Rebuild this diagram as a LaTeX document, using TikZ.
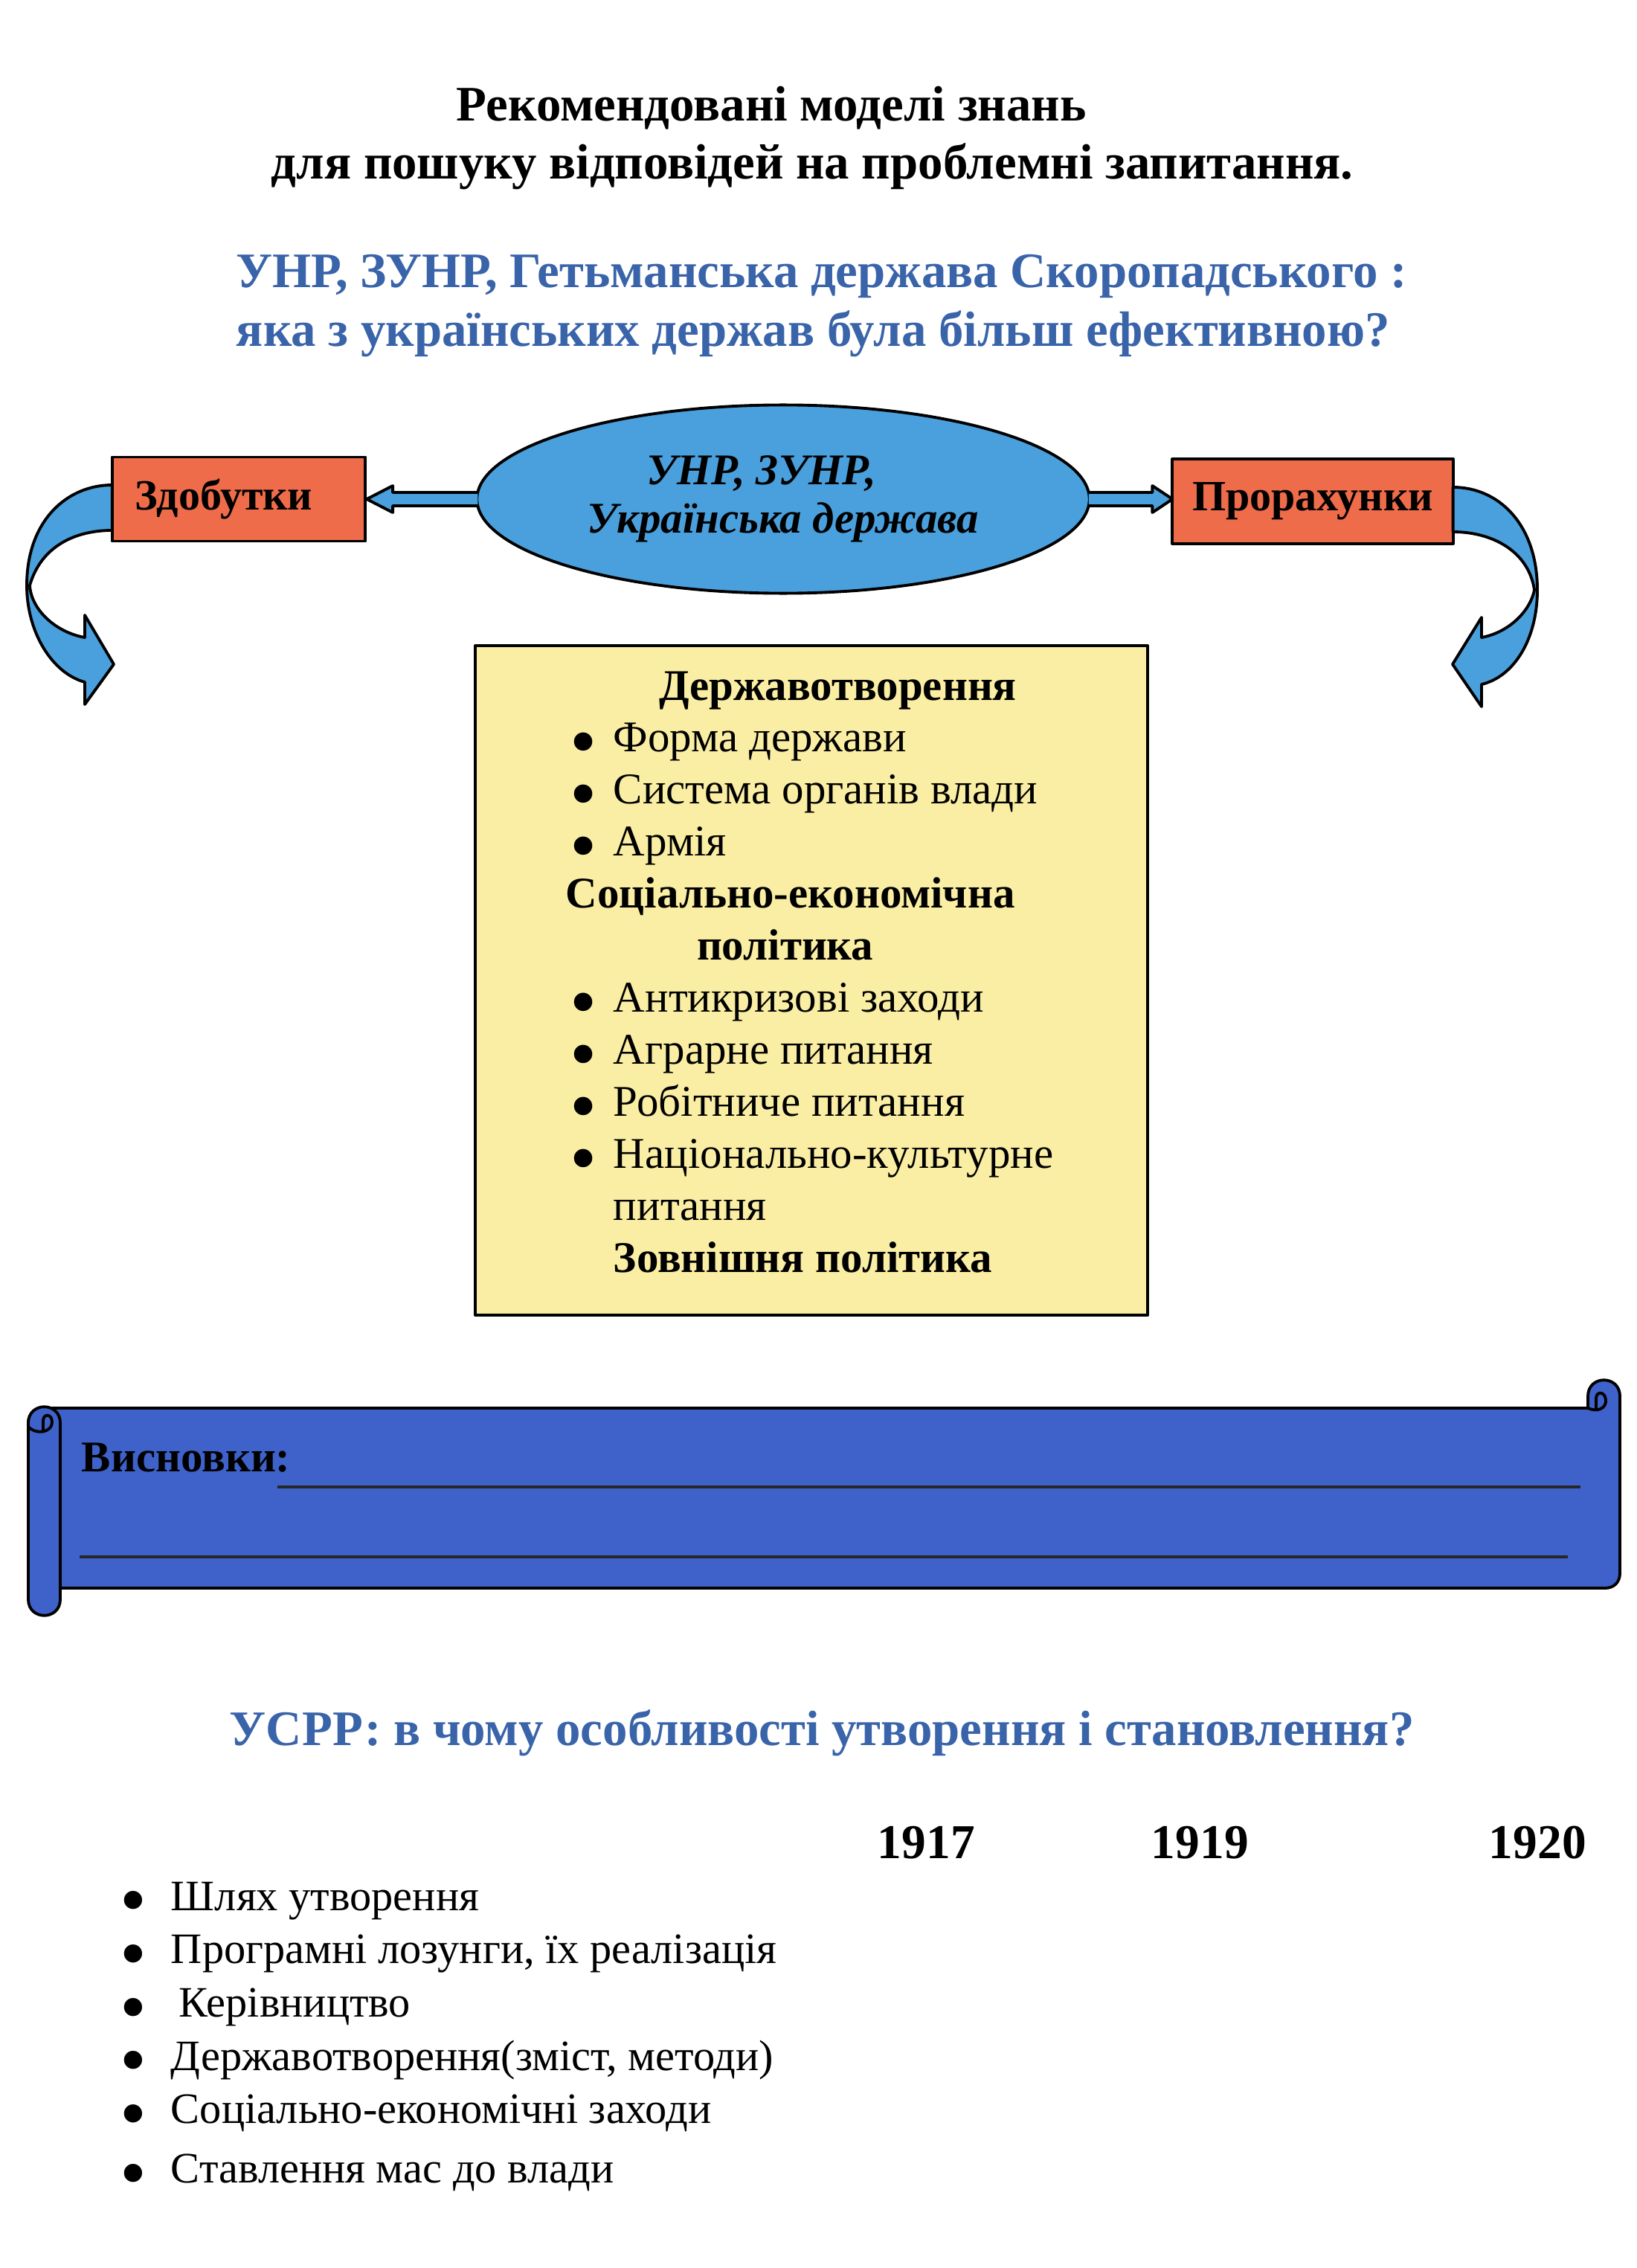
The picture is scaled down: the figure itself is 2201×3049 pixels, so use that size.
\documentclass[tikz,border=0pt]{standalone}
\usepackage{fontspec}
\setmainfont{Liberation Serif}
\usetikzlibrary{shapes.geometric,calc}
\definecolor{ovalblue}{RGB}{74,160,220}
\definecolor{boxred}{RGB}{238,108,74}
\definecolor{listyellow}{RGB}{250,238,164}
\definecolor{scrollblue}{RGB}{62,98,202}
\definecolor{headblue}{RGB}{58,100,170}
\newcommand{\dotmark}{\smash{\raisebox{-5.9pt}{\scalebox{1.75}{\textbullet}}}}

\begin{document}
\begin{tikzpicture}[x=0.01cm, y=-0.01cm, line width=1.1pt, line join=round,
    headline/.style={anchor=base west, inner sep=0pt, font=\fontsize{19}{22}\selectfont\bfseries},
    question/.style={headline, text=headblue},
    outcome/.style={draw, fill=boxred, inner sep=0pt, outer sep=0pt, font=\fontsize{16.5}{19}\selectfont\bfseries},
    blockarrow/.style={draw, fill=ovalblue},
    entry/.style={anchor=base west, inner sep=0pt, align=left, text width=12cm},
    yearmark/.style={anchor=base west, inner sep=0pt, font=\fontsize{18.6}{21}\selectfont\bfseries}]
  \useasboundingbox[fill=white] (0,0) rectangle (2201,3049);
  % Titles
  \node[headline] (title1) at (612,163) {Рекомендовані моделі знань};
  \node[headline] (title2) at (363,241) {для пошуку відповідей на проблемні запитання.};
  \node[question] (ask1) at (316,387) {УНР, ЗУНР, Гетьманська держава Скоропадського :};
  \node[question] (ask2) at (316,466) {яка з українських держав була більш ефективною?};
  % Nodes
  \node[ellipse, draw, fill=ovalblue, minimum width=8.23cm, minimum height=2.53cm, inner sep=0pt, outer sep=0pt,
    align=center, font=\fontsize{16.75}{18.5}\selectfont\bfseries\itshape] (state) at (1053,671) {УНР, ЗУНР,\hspace*{0.58cm}\\Українська держава};
  \node[outcome, minimum width=3.40cm, minimum height=1.13cm] (gain) at (321,671) {Здобутки\hspace*{0.4cm}};
  \node[outcome, minimum width=3.77cm, minimum height=1.14cm] (loss) at (1765,674) {Прорахунки};
  % Arrows
  \draw[blockarrow] ($(state.west)+(1,-9)$) -- ($(gain.east)+(37,-9)$) -- ($(gain.east)+(37,-18)$) -- ($(gain.east)+(2,0)$)
    -- ($(gain.east)+(37,18)$) -- ($(gain.east)+(37,9)$) -- ($(state.west)+(1,9)$);
  \draw[blockarrow] ($(state.east)+(-1,-9)$) -- ($(state.east -| loss.west)+(-27,-9)$) -- ($(state.east -| loss.west)+(-27,-18)$)
    -- (state.east -| loss.west) -- ($(state.east -| loss.west)+(-27,18)$) -- ($(state.east -| loss.west)+(-27,9)$) -- ($(state.east)+(-1,9)$);
  \coordinate (gaintip) at (153,893);
  \coordinate (losstip) at (1953,893);
  \draw[blockarrow] ($(gain.west)+(0,-19)$) .. controls (90,652) and (36,700) .. (36,787) .. controls (36,850) and (70,905) .. (114,917)
    -- (114,947) -- (gaintip) -- (114,827) -- (114,857) .. controls (75,850) and (42,820) .. (40,787)
    .. controls (55,735) and (100,713) .. ($(gain.west)+(0,42)$) -- cycle;
  \draw[blockarrow] ($(loss.east)+(0,-19)$) .. controls (2015,655) and (2067,705) .. (2067,793) .. controls (2067,860) and (2035,910) .. (1992,920)
    -- (1992,950) -- (losstip) -- (1992,830) -- (1992,857) .. controls (2030,850) and (2058,820) .. (2063,793)
    .. controls (2055,740) and (2005,715) .. ($(loss.east)+(0,41)$) -- cycle;
  % List box
  \node[draw, fill=listyellow, minimum width=9.03cm, minimum height=9.00cm, inner sep=0pt] (panel) at (1091,1318) {};
  \node[entry, font=\fontsize{16.75}{19.9}\selectfont] (aspects) at (759,941) {\spaceskip=0pt\xspaceskip=0pt
    \hspace*{1.25cm}\textbf{Державотворення}\\
    \makebox[0.64cm][l]{\hspace{0.06cm}\dotmark}Форма держави\\
    \makebox[0.64cm][l]{\hspace{0.06cm}\dotmark}Система органів влади\\
    \makebox[0.64cm][l]{\hspace{0.06cm}\dotmark}Армія\\
    \textbf{Соціально-економічна}\\
    \hspace*{1.76cm}\textbf{політика}\\
    \makebox[0.64cm][l]{\hspace{0.06cm}\dotmark}Антикризові заходи\\
    \makebox[0.64cm][l]{\hspace{0.06cm}\dotmark}Аграрне питання\\
    \makebox[0.64cm][l]{\hspace{0.06cm}\dotmark}Робітниче питання\\
    \makebox[0.64cm][l]{\hspace{0.06cm}\dotmark}Національно-культурне\\
    \hspace*{0.64cm}питання\\
    \hspace*{0.64cm}\textbf{Зовнішня політика}};
  % Scroll
  \draw[fill=scrollblue] (81,2135) -- (2158,2135) .. controls (2170,2135) and (2178,2127) .. (2178,2115) -- (2178,1877)
    .. controls (2178,1848) and (2135,1848) .. (2135,1877) -- (2135,1893) -- (60,1893) .. controls (48,1893) and (38,1901) .. (38,1913)
    -- (38,2135) -- cycle;
  \draw (2135,1893) .. controls (2148,1899) and (2160,1893) .. (2159,1882) .. controls (2158,1870) and (2146,1870) .. (2146,1880) -- (2146,1893);
  \draw[fill=scrollblue] (38,1913) -- (38,2150) .. controls (38,2179) and (81,2179) .. (81,2150) -- (81,1913)
    .. controls (81,1884) and (38,1884) .. (38,1913) -- cycle;
  \draw (38,1918) .. controls (50,1930) and (70,1925) .. (70,1912) .. controls (70,1900) and (58,1900) .. (58,1910) -- (58,1926);
  \node[anchor=base west, inner sep=0pt, font=\fontsize{16.75}{19}\selectfont\bfseries] (concl) at (108,1978) {Висновки:};
  \draw[line width=1.4pt, black!85] (373,1999) -- (2125,1999);
  \draw[line width=1.4pt, black!85] (107,2093) -- (2108,2093);
  % USSR part
  \node[question] (ask3) at (307,2346) {УСРР: в чому особливості утворення і становлення?};
  \node[yearmark] (y1917) at (1178,2498) {1917};
  \node[yearmark] (y1919) at (1546,2498) {1919};
  \node[yearmark] (y1920) at (2000,2498) {1920};
  \node[entry, font=\fontsize{16.6}{20.4}\selectfont] (features) at (160,2568) {\spaceskip=0pt\xspaceskip=0pt
    \makebox[0.68cm][l]{\dotmark}Шлях утворення\\
    \makebox[0.68cm][l]{\dotmark}Програмні лозунги, їх реалізація\\
    \makebox[0.68cm][l]{\dotmark}\hspace{0.11cm}Керівництво\\
    \makebox[0.68cm][l]{\dotmark}Державотворення(зміст, методи)\\
    \makebox[0.68cm][l]{\dotmark}Соціально-економічні заходи\\[2.3pt]
    \makebox[0.68cm][l]{\dotmark}Ставлення мас до влади};
\end{tikzpicture}
\end{document}
